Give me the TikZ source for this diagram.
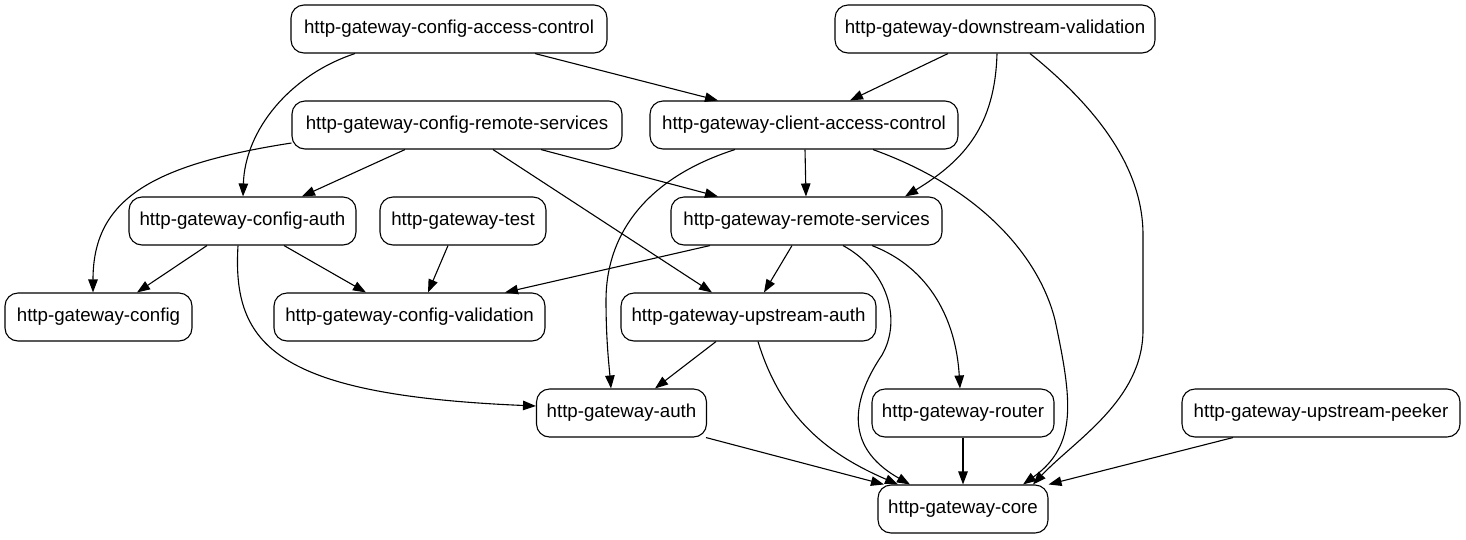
\documentclass[tikz,border=0pt]{standalone}
\usepackage{fontspec}
\setmainfont{Liberation Sans}
\usetikzlibrary{arrows.meta}
\begin{document}
\begin{tikzpicture}[x=1pt,y=-1pt,
  box/.style={draw, line width=1.1pt, rounded corners=13pt, minimum height=48pt, inner sep=0pt, font=\fontsize{18.7}{22}\selectfont},
  edge/.style={line width=1.1pt, -{Triangle[length=13pt,width=9.5pt]}}]
\useasboundingbox (0,0) rectangle (1466,539);
\node[box, minimum width=316pt] (cac) at (449,29) {http-gateway-config-access-control};
\node[box, minimum width=320pt] (dv) at (995,29) {http-gateway-downstream-validation};
\node[box, minimum width=330pt] (crs) at (457,125) {http-gateway-config-remote-services};
\node[box, minimum width=308pt] (clac) at (804,125) {http-gateway-client-access-control};
\node[box, minimum width=227pt] (ca) at (242.5,221) {http-gateway-config-auth};
\node[box, minimum width=166pt] (test) at (463,221) {http-gateway-test};
\node[box, minimum width=271pt] (rs) at (806.5,221) {http-gateway-remote-services};
\node[box, minimum width=187pt] (cfg) at (98.5,317) {http-gateway-config};
\node[box, minimum width=271pt] (cv) at (409.5,317) {http-gateway-config-validation};
\node[box, minimum width=255pt] (ua) at (748.5,317) {http-gateway-upstream-auth};
\node[box, minimum width=170pt] (auth) at (621.5,413) {http-gateway-auth};
\node[box, minimum width=182pt] (router) at (963,413) {http-gateway-router};
\node[box, minimum width=278pt] (peek) at (1321,413) {http-gateway-upstream-peeker};
\node[box, minimum width=170pt] (core) at (963,509) {http-gateway-core};

% top row
\draw[edge] (535,0 |- cac.south) -- (718,0 |- clac.north);
\draw[edge] (355,0 |- cac.south) .. controls (290,75) and (245,130) .. (243,0 |- ca.north);
\draw[edge] (948,0 |- dv.south) -- (850,0 |- clac.north);
\draw[edge] (997,0 |- dv.south) .. controls (995,125) and (965,160) .. (905,0 |- rs.north);
\draw[edge] (1030,0 |- dv.south) .. controls (1100,110) and (1143,170) .. (1143,235) -- (1143,330) .. controls (1143,400) and (1075,440) .. (1033,0 |- core.north);
% second row
\draw[edge] (crs.west |- 0,143) .. controls (150,165) and (93,200) .. (93,0 |- cfg.north);
\draw[edge] (405,0 |- crs.south) -- (302,0 |- ca.north);
\draw[edge] (493,0 |- crs.south) -- (712,0 |- ua.north);
\draw[edge] (541,0 |- crs.south) -- (718,0 |- rs.north);
\draw[edge] (805,0 |- clac.south) -- (806,0 |- rs.north);
\draw[edge] (735,0 |- clac.south) .. controls (640,180) and (606,240) .. (606,300) .. controls (606,340) and (609,365) .. (611,0 |- auth.north);
\draw[edge] (873,0 |- clac.south) .. controls (985,190) and (1040,260) .. (1055,320) .. controls (1072,400) and (1078,445) .. (1023,0 |- core.north);
% third row
\draw[edge] (207,0 |- ca.south) -- (137,0 |- cfg.north);
\draw[edge] (284,0 |- ca.south) -- (366,0 |- cv.north);
\draw[edge] (238,0 |- ca.south) .. controls (232,345) and (275,395) .. (auth.west |- 0,406);
\draw[edge] (448,0 |- test.south) -- (428,0 |- cv.north);
\draw[edge] (710,0 |- rs.south) -- (505,0 |- cv.north);
\draw[edge] (792,0 |- rs.south) -- (764,0 |- ua.north);
\draw[edge] (843,0 |- rs.south) .. controls (888,270) and (902,320) .. (882,355) .. controls (855,395) and (840,445) .. (910,0 |- core.north);
\draw[edge] (872,0 |- rs.south) .. controls (930,268) and (956,320) .. (960,0 |- router.north);
% fourth row
\draw[edge] (716,0 |- ua.south) -- (655,0 |- auth.north);
\draw[edge] (758,0 |- ua.south) .. controls (782,420) and (830,455) .. (898,0 |- core.north);
% fifth row
\draw[edge] (706,0 |- auth.south) -- (884,0 |- core.north);
\draw[edge] (router) -- (core);
\draw[edge] (1233,0 |- peek.south) -- (core.north east);
\end{tikzpicture}
\end{document}
